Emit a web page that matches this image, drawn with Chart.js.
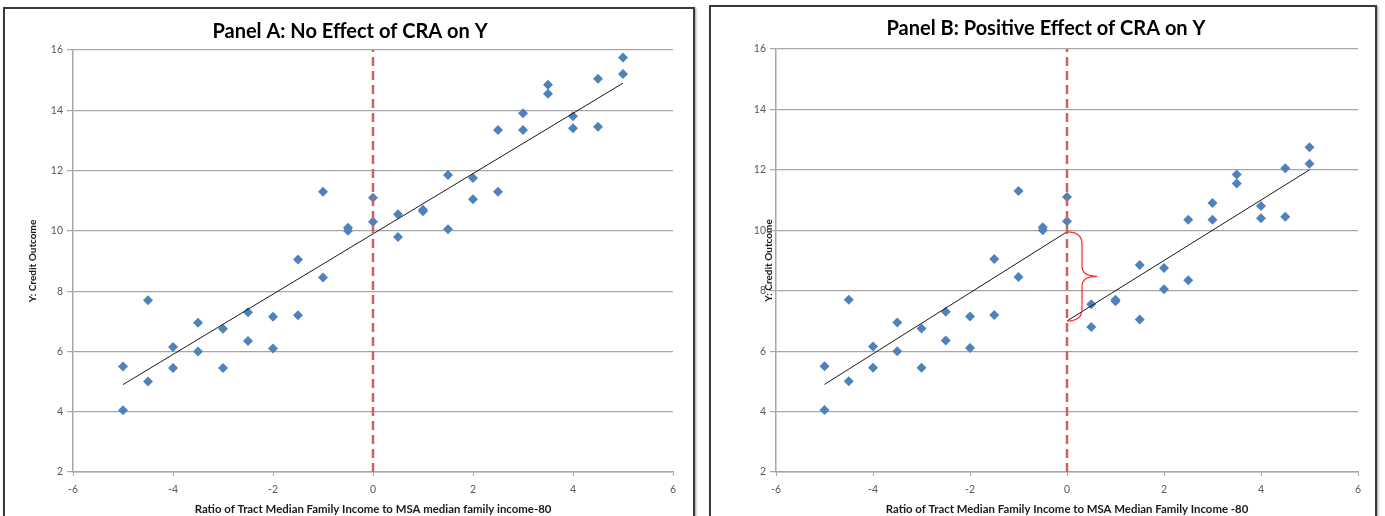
<!DOCTYPE html>
<html>
<head>
<meta charset="utf-8">
<script src="https://cdn.jsdelivr.net/npm/chart.js@4.4.1/dist/chart.umd.min.js"></script>
<style>
  body { margin: 0; background: #fff; width: 1385px; height: 516px; overflow: hidden; position: relative; }
  .panel { position: absolute; border: 2px solid #3a3a3a; box-shadow: 1px 1px 2px #999; background: #fff; }
  #boxA { left: 3px; top: 7px; width: 688px; height: 520px; }
  #boxB { left: 709px; top: 5px; width: 664px; height: 522px; }
  canvas { position: absolute; left: 0; top: 0; }
</style>
</head>
<body>
<div class="panel" id="boxA"><canvas id="panelA" width="688" height="507"></canvas></div>
<div class="panel" id="boxB"><canvas id="panelB" width="664" height="509"></canvas></div>
<script>
{
  // Ratio of tract income (x) for each observation
  const xs = [-5, -5, -4.5, -4.5, -4, -4, -3.5, -3.5, -3, -3, -2.5, -2.5, -2, -2, -1.5, -1.5,
    -1, -1, -0.5, -0.5, 0, 0, 0.5, 0.5, 1, 1, 1.5, 1.5, 2, 2, 2.5, 2.5, 3, 3, 3.5, 3.5,
    4, 4, 4.5, 4.5, 5, 5];
  // Credit outcome, panel A (no effect)
  const yA = [5.5, 4.05, 7.7, 5.0, 6.15, 5.45, 6.95, 6.0, 6.75, 5.45, 7.3, 6.35, 7.15, 6.1, 9.05, 7.2,
    11.3, 8.45, 10.1, 10.0, 11.1, 10.3, 10.55, 9.8, 10.7, 10.65, 11.85, 10.05, 11.75, 11.05, 13.35, 11.3,
    13.9, 13.35, 14.85, 14.55, 13.8, 13.4, 15.05, 13.45, 15.75, 15.2];
  // Credit outcome, panel B (positive effect)
  const yB = [5.5, 4.05, 7.7, 5.0, 6.15, 5.45, 6.95, 6.0, 6.75, 5.45, 7.3, 6.35, 7.15, 6.1, 9.05, 7.2,
    11.3, 8.45, 10.1, 10.0, 11.1, 10.3, 7.55, 6.8, 7.7, 7.65, 8.85, 7.05, 8.75, 8.05, 10.35, 8.35,
    10.9, 10.35, 11.85, 11.55, 10.8, 10.4, 12.05, 10.45, 12.75, 12.2];

  // fitted lines [x, y]
  const fitA = [[-5, 4.9], [5, 14.9]];
  const fitBLeft = [[-5, 4.9], [0, 9.95]];
  const fitBRight = [[0, 7.0], [5, 12.0]];
  const cutoff = [[0, 2], [0, 16]];

  const yTicks = [2, 4, 6, 8, 10, 12, 14, 16];
  const xTicks = [-6, -4, -2, 0, 2, 4, 6];

  const font = 'Lato, "Open Sans", sans-serif';
  const toPts = (arr) => arr.map(p => ({x: p[0], y: p[1]}));
  const points = (ys) => xs.map((x, i) => ({x: x, y: ys[i]}));

  const dots = (ys) => ({
    data: points(ys),
    pointStyle: 'rectRot',
    pointRadius: 5,
    backgroundColor: '#4f81bd',
    borderColor: '#4f81bd',
    borderWidth: 0,
    showLine: false
  });
  const line = (arr) => ({
    data: toPts(arr),
    showLine: true,
    pointRadius: 0,
    borderColor: '#1a1a1a',
    borderWidth: 1
  });
  const dashed = {
    data: toPts(cutoff),
    showLine: true,
    pointRadius: 0,
    borderColor: '#d0625d',
    borderWidth: 2.5,
    borderDash: [9, 5]
  };

  function options(title, xTitle, leftPad, yWidth, yLabelPad, rightPad, titlePad) {
    return {
      responsive: false,
      animation: false,
      devicePixelRatio: 1,
      layout: { padding: { left: leftPad, right: rightPad, top: 0, bottom: 0 } },
      plugins: {
        legend: { display: false },
        tooltip: { enabled: false },
        title: {
          display: true,
          text: title,
          color: '#000',
          font: { family: font, size: 20, weight: 'bold', lineHeight: 1.2 },
          padding: titlePad
        }
      },
      scales: {
        x: {
          type: 'linear',
          min: -6, max: 6,
          afterBuildTicks: (s) => { s.ticks = xTicks.map(v => ({value: v})); },
          afterFit: (s) => { s.height = 44; },
          grid: { drawOnChartArea: false, drawTicks: true, tickLength: 4, color: '#a6a6a6', lineWidth: 1 },
          border: { display: true, color: '#a6a6a6', width: 1.5 },
          ticks: { color: '#595959', font: { family: font, size: 10.5 }, padding: 7, maxRotation: 0 },
          title: {
            display: true,
            text: xTitle,
            color: '#1a1a1a',
            font: { family: font, size: 11.4, weight: 'bold', lineHeight: 1.2 },
            padding: { top: 0, bottom: 0 }
          }
        },
        y: {
          type: 'linear',
          min: 2, max: 16,
          afterBuildTicks: (s) => { s.ticks = yTicks.map(v => ({value: v})); },
          afterFit: (s) => { s.width = yWidth; },
          grid: { color: '#a6a6a6', lineWidth: 1.2, drawTicks: true, tickLength: 6 },
          border: { display: true, color: '#a6a6a6', width: 1.5 },
          ticks: { color: '#595959', font: { family: font, size: 10.5 }, padding: 4 },
          title: {
            display: true,
            text: 'Y: Credit Outcome',
            color: '#1a1a1a',
            font: { family: font, size: 10, weight: 'bold', lineHeight: 1.2 },
            padding: { top: yLabelPad, bottom: 0 }
          }
        }
      }
    };
  }

  // red curly brace showing the jump at the cutoff
  const bracePlugin = {
    id: 'brace',
    afterDatasetsDraw(chart) {
      const xS = chart.scales.x, yS = chart.scales.y;
      const x0 = xS.getPixelForValue(0);
      const top = yS.getPixelForValue(fitBLeft[1][1]);
      const bot = yS.getPixelForValue(fitBRight[0][1]);
      const mid = (top + bot) / 2;
      const w = 15;
      const c = chart.ctx;
      c.save();
      c.strokeStyle = '#ff2a2a';
      c.lineWidth = 1.2;
      c.beginPath();
      c.moveTo(x0, top);
      c.quadraticCurveTo(x0 + w, top, x0 + w, top + 12);
      c.lineTo(x0 + w, mid - 10);
      c.quadraticCurveTo(x0 + w, mid, x0 + 2 * w, mid);
      c.quadraticCurveTo(x0 + w, mid, x0 + w, mid + 10);
      c.lineTo(x0 + w, bot - 12);
      c.quadraticCurveTo(x0 + w, bot, x0, bot);
      c.stroke();
      c.restore();
    }
  };

  new Chart(document.getElementById('panelA'), {
    type: 'scatter',
    data: { datasets: [dashed, line(fitA), dots(yA)] },
    options: options('Panel A: No Effect of CRA on Y',
      'Ratio of Tract Median Family Income to MSA median family income-80',
      22, 46, 0, 20, { top: 10.5, bottom: 6.5 })
  });

  new Chart(document.getElementById('panelB'), {
    type: 'scatter',
    data: { datasets: [Object.assign({}, dashed), line(fitBLeft), line(fitBRight), dots(yB)] },
    options: options('Panel B: Positive Effect of CRA on Y',
      'Ratio of Tract Median Family Income to MSA Median Family Income -80',
      23, 42, 29, 17, { top: 10, bottom: 8 }),
    plugins: [bracePlugin]
  });
}
</script>
</body>
</html>
